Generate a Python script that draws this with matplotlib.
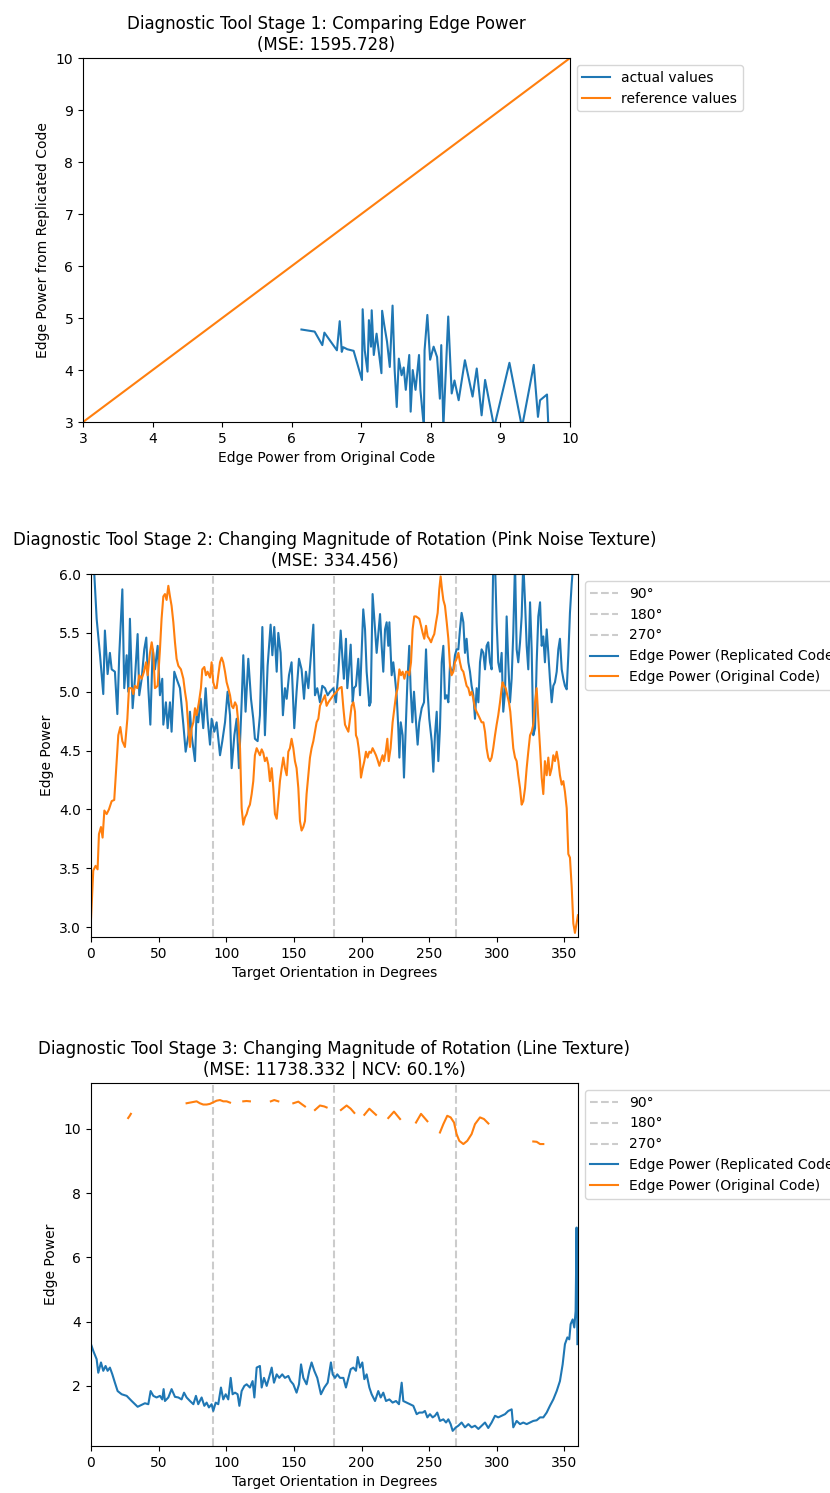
import numpy as np
import matplotlib
matplotlib.use("Agg")
import matplotlib.pyplot as plt

# ---------------- Panel 1 data ----------------
p1_x = [6.14, 6.33, 6.44, 6.47, 6.65, 6.69, 6.72, 6.74, 6.80, 6.89, 7.01, 7.02, 7.05, 7.09,
        7.11, 7.14, 7.15, 7.18, 7.22, 7.29, 7.30, 7.33, 7.37, 7.41, 7.45, 7.48, 7.51, 7.54,
        7.58, 7.61, 7.64, 7.69, 7.71, 7.74, 7.78, 7.83, 7.85, 7.90, 7.91, 7.95, 7.99, 8.04,
        8.09, 8.13, 8.15, 8.18, 8.25, 8.30, 8.34, 8.40, 8.49, 8.60, 8.66, 8.73, 8.78, 8.91,
        9.13, 9.31, 9.48, 9.54, 9.57, 9.67, 9.69]
p1_y = [4.78, 4.74, 4.48, 4.72, 4.38, 4.94, 4.35, 4.44, 4.40, 4.37, 3.81, 5.17, 4.38, 3.97,
        4.96, 4.45, 5.15, 4.29, 4.70, 3.94, 5.14, 4.87, 4.55, 4.06, 5.24, 4.00, 3.29, 4.22,
        3.90, 4.05, 3.62, 4.29, 3.20, 4.00, 3.62, 4.29, 3.62, 2.90, 4.38, 5.06, 4.20, 4.45,
        4.25, 3.45, 4.48, 2.90, 5.03, 3.55, 3.80, 3.42, 4.19, 3.49, 4.03, 3.13, 3.81, 2.90,
        4.14, 2.90, 4.10, 3.10, 3.42, 3.53, 2.90]
p1_ref = [3, 10]

# ---------------- Panel 2 data ----------------
p2_blue_deg = [0, 2, 4.2, 6.7, 9.1, 10.3, 12.3, 14.0, 15.3, 17.7, 19.5, 20.9, 23.2, 24.6, 26.4,
               27.6, 28.8, 30.8, 32.5, 34.5, 35.7, 37.5, 39.4, 40.9, 42.4, 43.9, 45.6, 47.3,
               49.3, 51.0, 52.7, 53.5, 55.4, 56.7, 58.4, 59.6, 61.6, 63.3, 65.8, 67.0, 68.3,
               70.0, 72.0, 73.2, 74.4, 76.9, 78.1, 79.3, 81.1, 83.0, 84.8, 86.2, 88.0, 89.2,
               91.2, 92.9, 95.4, 97.1, 99.1, 101.0, 102.8, 104.0, 106.0, 107.7, 109.4, 111.4,
               112.6, 114.3, 116.3, 118.3, 120.0, 121.2, 123.2, 124.9, 126.7, 128.6, 130.6,
               132.8, 134.1, 135.5, 137.3, 138.5, 140.2, 141.9, 143.4, 144.7, 146.4, 148.3,
               150.3, 152.0, 153.8, 155.7, 157.5, 158.9, 160.7, 162.6, 164.4, 165.6, 167.3,
               169.3, 171.0, 173.0, 175.0, 176.7, 179.2, 181.1, 182.9, 184.6, 186.1, 187.0,
               188.5, 189.5, 190.7, 192.0, 193.5, 194.4, 195.9, 197.6, 198.9, 200.1, 201.3,
               202.6, 203.8, 205.8, 206.8, 208.2, 210.0, 211.2, 213.7, 214.9, 216.1, 217.4,
               218.6, 219.8, 220.6, 222.3, 223.5, 224.8, 226.0, 227.2, 228.0, 229.0, 230.4,
               231.4, 232.9, 233.9, 235.3, 236.3, 237.6, 238.8, 240.3, 241.5, 242.7, 244.5,
               246.2, 247.7, 248.7, 250.1, 251.9, 253.1, 254.3, 255.6, 256.8, 258.0, 259.3,
               260.5, 261.7, 263.0, 264.2, 265.4, 266.6, 267.9, 269.1, 270.3, 271.6, 272.8,
               274.0, 275.3, 276.5, 277.7, 279.0, 280.2, 281.4, 282.7, 283.9, 285.1, 286.4,
               287.6, 288.8, 290.1, 291.3, 292.5, 293.7, 295.0, 296.2, 297.4, 298.7, 299.9,
               301.1, 302.4, 303.6, 304.8, 306.1, 307.3, 308.5, 309.8, 311.0, 312.2, 313.5,
               314.7, 315.9, 317.2, 318.4, 319.6, 320.9, 322.1, 323.3, 324.6, 325.8, 327.0,
               328.3, 329.5, 330.7, 332.0, 333.2, 334.4, 335.6, 336.9, 338.1, 339.3, 340.6,
               341.8, 343.0, 344.3, 345.5, 346.7, 348.0, 349.2, 350.4, 351.7, 352.9, 354.1,
               355.4, 356.6, 359.0]
p2_blue_val = [6.4, 6.1, 5.62, 5.31, 4.98, 5.52, 5.15, 5.33, 5.19, 5.17, 4.81, 5.31, 5.87, 5.03,
               5.31, 5.00, 5.62, 4.86, 5.11, 5.49, 4.97, 5.11, 5.36, 5.46, 5.03, 4.72, 5.36,
               5.19, 5.39, 4.97, 5.11, 4.72, 4.91, 4.69, 4.91, 4.66, 5.17, 5.11, 5.03, 4.88,
               4.72, 4.49, 4.63, 4.83, 4.63, 4.41, 4.83, 4.74, 4.94, 4.69, 5.03, 4.77, 4.55,
               4.77, 4.66, 4.74, 4.46, 4.58, 4.74, 5.00, 4.80, 4.35, 4.63, 4.77, 4.35, 4.91,
               5.31, 4.83, 5.28, 4.94, 4.77, 4.60, 4.58, 4.80, 5.55, 4.63, 5.22, 5.57, 5.31,
               5.55, 5.17, 5.50, 5.33, 4.80, 5.03, 4.94, 5.14, 5.25, 4.69, 5.00, 5.28, 5.19,
               4.94, 5.17, 5.03, 5.31, 5.57, 4.97, 5.03, 4.91, 5.05, 5.03, 4.97, 5.00, 5.03,
               4.91, 5.17, 5.52, 5.25, 5.11, 5.45, 5.03, 5.19, 5.40, 4.91, 5.03, 5.05, 5.28,
               4.97, 5.33, 5.70, 5.53, 5.17, 4.88, 4.91, 5.83, 5.53, 5.33, 5.66, 5.39, 5.17,
               5.53, 5.59, 5.39, 5.59, 5.14, 5.25, 5.11, 4.97, 4.69, 4.44, 4.74, 4.63, 4.27,
               4.77, 5.08, 5.39, 5.03, 4.74, 5.00, 4.74, 4.55, 4.74, 4.86, 4.91, 5.36, 5.03,
               4.77, 4.58, 4.32, 4.63, 4.83, 4.41, 4.69, 5.25, 5.39, 4.94, 4.97, 4.91, 5.22,
               5.17, 5.19, 5.31, 5.36, 5.36, 5.53, 5.67, 5.59, 5.33, 5.45, 5.25, 5.17, 5.05,
               4.97, 4.77, 5.03, 4.91, 5.25, 5.36, 5.33, 5.19, 5.39, 5.42, 5.25, 5.19, 6.10,
               6.10, 5.59, 5.25, 5.17, 5.33, 4.83, 5.00, 5.64, 5.25, 4.91, 5.11, 5.50, 6.10,
               5.36, 5.25, 5.42, 5.64, 6.10, 5.76, 5.39, 5.19, 5.76, 5.36, 4.63, 4.69, 5.25,
               5.64, 5.76, 5.39, 5.47, 5.25, 5.53, 5.33, 5.11, 4.91, 5.05, 5.08, 5.17, 5.36,
               5.45, 5.19, 5.11, 5.05, 5.02, 5.31, 5.67, 5.92, 6.10, 6.40]

p2_orange_deg = [0, 1.7, 3.4, 4.9, 5.9, 7.4, 8.6, 9.9, 11.6, 13.3, 15.3, 17.2, 19.0, 20.2, 21.7,
                 23.2, 25.1, 26.9, 28.1, 30.1, 31.3, 32.5, 34.3, 35.7, 37.5, 39.2, 40.7, 41.9,
                 43.6, 44.9, 46.1, 47.3, 49.3, 51.0, 52.2, 53.5, 54.7, 55.9, 57.2, 58.4, 59.6,
                 60.9, 62.1, 63.3, 64.6, 66.5, 68.3, 69.5, 70.7, 72.0, 73.2, 74.4, 75.7, 76.9,
                 78.1, 79.8, 81.3, 82.3, 83.8, 85.0, 86.2, 88.0, 89.2, 90.4, 91.7, 92.9, 94.1,
                 95.4, 96.6, 97.8, 99.1, 100.3, 101.5, 102.8, 104.0, 105.2, 106.5, 107.7, 108.9,
                 110.2, 111.4, 112.6, 113.8, 115.1, 116.3, 117.5, 118.8, 120.0, 121.2, 122.5,
                 123.7, 124.9, 126.2, 127.4, 128.6, 129.9, 131.1, 132.3, 133.6, 134.8, 136.0,
                 137.3, 138.5, 139.7, 141.0, 142.2, 143.4, 144.7, 145.9, 147.1, 148.3, 149.6,
                 150.8, 152.0, 153.3, 154.5, 155.7, 157.0, 158.2, 159.4, 160.7, 161.9, 163.1,
                 164.4, 165.6, 166.8, 168.1, 169.3, 170.5, 171.8, 173.0, 174.2, 175.5, 176.7,
                 179.2, 181.6, 183.6, 185.3, 186.6, 187.8, 189.0, 190.3, 191.5, 192.7, 194.0,
                 195.2, 195.9, 196.9, 197.9, 198.9, 199.6, 200.9, 202.1, 203.3, 204.5, 205.8,
                 207.0, 208.2, 209.5, 210.7, 211.9, 213.2, 214.2, 215.6, 216.6, 217.9, 219.1,
                 220.1, 221.5, 223.0, 224.3, 225.5, 226.7, 228.0, 229.2, 230.4, 231.7, 232.9,
                 234.1, 235.3, 236.6, 237.8, 239.0, 240.3, 241.5, 242.7, 244.0, 245.2, 246.4,
                 247.7, 248.9, 250.1, 251.4, 252.6, 253.8, 255.1, 256.3, 257.5, 258.5, 259.5,
                 260.5, 261.7, 263.0, 264.2, 265.4, 266.6, 267.9, 269.1, 270.3, 271.6, 272.8,
                 274.0, 275.3, 276.5, 277.7, 279.0, 280.2, 281.4, 282.7, 283.9, 285.1, 286.4,
                 287.6, 288.8, 290.1, 291.3, 292.5, 293.7, 295.0, 296.2, 297.4, 298.7, 299.9,
                 301.1, 302.4, 303.6, 304.3, 305.3, 306.6, 307.8, 309.0, 310.0, 311.0, 312.2,
                 313.5, 314.7, 315.9, 317.2, 318.4, 319.6, 320.9, 322.1, 323.3, 324.6, 325.8,
                 327.0, 328.3, 329.5, 330.7, 332.0, 333.2, 334.4, 335.6, 336.9, 338.1, 339.3,
                 340.6, 341.8, 343.0, 344.3, 345.5, 346.7, 348.0, 349.2, 350.4, 351.7, 352.9,
                 354.1, 355.4, 356.6, 357.8, 359.0, 360.0]
p2_orange_val = [3.06, 3.48, 3.52, 3.49, 3.79, 3.85, 3.76, 3.99, 3.96, 4.00, 4.07, 4.08, 4.41,
                 4.63, 4.70, 4.58, 4.53, 4.77, 5.03, 5.03, 4.98, 5.05, 5.03, 5.14, 5.11, 5.17,
                 5.25, 5.14, 5.33, 5.42, 5.33, 5.03, 5.05, 5.36, 5.62, 5.81, 5.83, 5.78, 5.90,
                 5.81, 5.73, 5.59, 5.42, 5.28, 5.22, 5.19, 5.11, 5.00, 4.91, 4.69, 4.53, 4.69,
                 4.74, 4.86, 4.80, 4.91, 5.03, 5.19, 5.21, 5.14, 5.17, 5.12, 5.25, 5.08, 5.03,
                 5.03, 5.14, 5.25, 5.29, 5.25, 5.17, 5.08, 5.03, 4.97, 4.88, 4.86, 4.91, 4.88,
                 4.74, 4.52, 4.01, 3.87, 3.93, 3.96, 4.01, 4.04, 4.13, 4.24, 4.46, 4.52, 4.49,
                 4.46, 4.51, 4.48, 4.41, 4.44, 4.38, 4.24, 4.35, 4.18, 3.96, 3.92, 4.07, 4.24,
                 4.35, 4.44, 4.35, 4.29, 4.49, 4.52, 4.60, 4.52, 4.41, 4.35, 4.18, 3.90, 3.82,
                 3.85, 3.90, 4.13, 4.29, 4.44, 4.52, 4.58, 4.66, 4.74, 4.77, 4.88, 4.91, 4.94,
                 4.97, 4.88, 4.91, 4.93, 4.97, 5.00, 5.03, 5.04, 4.86, 4.72, 4.69, 4.66, 4.77,
                 4.88, 4.91, 4.83, 4.63, 4.60, 4.52, 4.41, 4.27, 4.35, 4.41, 4.49, 4.44, 4.49,
                 4.48, 4.52, 4.49, 4.46, 4.42, 4.37, 4.41, 4.46, 4.41, 4.49, 4.60, 4.41, 4.52,
                 4.74, 4.86, 4.97, 5.03, 5.19, 5.14, 5.17, 5.11, 5.17, 5.17, 5.14, 5.25, 5.53,
                 5.64, 5.64, 5.63, 5.62, 5.56, 5.50, 5.45, 5.56, 5.47, 5.45, 5.42, 5.46, 5.49,
                 5.59, 5.67, 5.87, 5.98, 5.87, 5.78, 5.73, 5.59, 5.45, 5.22, 5.14, 5.17, 5.25,
                 5.28, 5.33, 5.25, 5.19, 5.17, 5.11, 5.05, 5.03, 4.97, 5.00, 4.94, 4.86, 4.83,
                 4.80, 4.77, 4.74, 4.74, 4.66, 4.52, 4.44, 4.41, 4.44, 4.52, 4.63, 4.72, 4.80,
                 4.91, 5.03, 5.08, 5.05, 5.03, 4.97, 4.91, 4.83, 4.69, 4.52, 4.44, 4.41, 4.29,
                 4.18, 4.04, 4.07, 4.18, 4.35, 4.49, 4.63, 4.66, 4.72, 4.91, 5.03, 4.77, 4.52,
                 4.27, 4.13, 4.41, 4.29, 4.44, 4.29, 4.35, 4.46, 4.41, 4.49, 4.41, 4.29, 4.21,
                 4.24, 4.15, 4.01, 3.62, 3.59, 3.34, 3.03, 2.95, 3.03, 3.10]

# ---------------- Panel 3 data ----------------
p3_blue_deg = [0, 1.7, 4.2, 5.4, 7.4, 9.1, 10.8, 12.3, 14.0, 15.8, 17.7, 19.7, 22.7, 26.4, 30.1,
               34.5, 37.5, 39.9, 42.4, 44.1, 46.1, 48.5, 51.0, 52.7, 53.7, 54.7, 57.2, 59.6,
               62.1, 64.6, 67.0, 68.8, 70.7, 73.2, 75.7, 77.6, 79.3, 81.8, 83.8, 85.5, 87.2,
               89.2, 90.4, 92.2, 94.1, 96.1, 97.8, 99.6, 101.5, 103.3, 104.7, 106.5, 108.4,
               109.7, 111.4, 113.4, 115.1, 117.5, 119.5, 120.8, 122.5, 124.9, 126.2, 127.9,
               129.9, 131.6, 133.6, 135.3, 137.3, 139.2, 141.4, 143.4, 145.9, 147.6, 149.6,
               152.0, 153.8, 155.3, 157.0, 159.4, 161.4, 163.1, 165.1, 167.3, 170.0, 172.5,
               175.0, 177.4, 178.7, 180.4, 182.1, 184.1, 186.6, 188.5, 190.3, 192.0, 194.0,
               195.9, 197.2, 198.9, 200.6, 202.1, 203.8, 205.8, 207.5, 210.0, 212.4, 214.2,
               216.1, 218.1, 220.6, 223.0, 225.5, 227.7, 229.7, 230.9, 233.4, 235.8, 238.3,
               240.8, 242.7, 245.2, 246.9, 248.7, 250.6, 252.6, 254.3, 256.0, 258.0, 260.5,
               262.5, 264.2, 265.9, 267.4, 269.8, 271.6, 274.0, 276.5, 279.0, 281.4, 283.9,
               286.4, 288.8, 291.3, 293.7, 296.2, 298.7, 301.1, 303.6, 306.1, 308.5, 311.0,
               312.2, 314.7, 317.2, 319.6, 322.1, 324.6, 327.0, 329.5, 332.0, 334.4, 336.9,
               339.3, 341.8, 344.3, 346.7, 348.7, 350.4, 352.2, 353.6, 354.6, 356.1, 357.3,
               358.3, 359.0, 359.6]
p3_blue_val = [3.30, 3.09, 2.83, 2.41, 2.73, 2.47, 2.62, 2.47, 2.57, 2.36, 2.10, 1.84, 1.74, 1.69,
               1.53, 1.35, 1.41, 1.46, 1.43, 1.84, 1.69, 1.64, 1.69, 1.58, 1.90, 1.53, 1.64,
               1.90, 1.66, 1.64, 1.58, 1.79, 1.64, 1.53, 1.43, 1.69, 1.43, 1.64, 1.38, 1.48,
               1.33, 1.43, 1.22, 1.48, 1.43, 1.95, 1.58, 1.74, 1.58, 2.25, 1.74, 1.79, 1.74,
               1.38, 1.84, 2.00, 2.05, 1.95, 2.15, 1.64, 2.57, 2.62, 1.95, 2.25, 2.00, 2.25,
               2.57, 2.10, 2.36, 2.25, 2.36, 2.25, 2.31, 2.15, 2.05, 1.79, 2.05, 2.67, 2.25,
               2.05, 2.47, 2.73, 2.47, 2.25, 1.74, 1.95, 2.10, 2.73, 2.36, 2.25, 2.36, 2.25,
               2.25, 1.95, 2.25, 2.52, 2.57, 2.47, 2.90, 2.57, 2.73, 2.21, 2.36, 1.95, 1.74,
               1.53, 1.84, 1.64, 1.79, 1.53, 1.58, 1.48, 1.53, 1.43, 2.10, 1.53, 1.48, 1.43,
               1.38, 1.12, 1.17, 1.17, 1.22, 1.02, 1.12, 1.02, 1.07, 1.17, 0.91, 0.96, 0.86,
               0.96, 0.81, 0.60, 0.71, 0.76, 0.86, 0.71, 0.81, 0.71, 0.76, 0.66, 0.76, 0.86,
               0.69, 0.86, 1.07, 1.02, 1.07, 1.12, 1.22, 1.27, 0.71, 0.91, 0.81, 0.86, 0.81,
               0.86, 0.91, 0.93, 1.02, 1.02, 1.17, 1.38, 1.58, 1.84, 2.15, 2.67, 3.30, 3.51,
               3.45, 3.92, 4.07, 3.82, 4.33, 6.93, 3.30]

# Original-code series (gaps = missing values)
p3_orange_deg = [27.5, 28.5, 29.5, 30.5,
                 70.7, 74.4, 78.1, 80.5, 83.0, 85.5, 87.9, 90.4, 92.9, 95.4, 97.8, 100.3, 102.8, 103.8,
                 112.6, 115.0, 117.5, 118.5,
                 133.0, 135.5, 138.5, 139.5,
                 149.6, 153.3, 156.2, 158.2, 159.2,
                 165.6, 169.3, 172.5, 174.2, 175.2,
                 184.8, 189.0, 192.0, 194.7, 195.7,
                 202.1, 205.8, 210.7, 211.7,
                 219.8, 224.0, 228.5, 229.5,
                 240.3, 244.0, 248.7, 249.7,
                 258.0, 260.5, 263.4, 265.9, 268.4, 270.3, 272.3, 275.3, 278.2, 281.4, 283.9,
                 287.6, 290.5, 293.8, 294.8,
                 327.0, 329.5, 332.0, 334.4]
p3_orange_val = [10.34, 10.40, 10.47, np.nan,
                 10.80, 10.83, 10.86, 10.80, 10.76, 10.76, 10.78, 10.83, 10.88, 10.90, 10.86, 10.86, 10.82, np.nan,
                 10.86, 10.87, 10.86, np.nan,
                 10.86, 10.90, 10.86, np.nan,
                 10.80, 10.85, 10.76, 10.70, np.nan,
                 10.59, 10.73, 10.70, 10.67, np.nan,
                 10.59, 10.73, 10.63, 10.50, np.nan,
                 10.44, 10.63, 10.44, np.nan,
                 10.34, 10.54, 10.31, np.nan,
                 10.20, 10.47, 10.24, np.nan,
                 9.89, 10.15, 10.41, 10.36, 10.20, 9.84, 9.63, 9.53, 9.63, 9.84, 10.15,
                 10.36, 10.31, 10.17, np.nan,
                 9.61, 9.60, 9.53, 9.53]

ref_angles = [90, 180, 270]
ref_labels = ["90°", "180°", "270°"]
x_ticks = [0, 50, 100, 150, 200, 250, 300, 350]

BLUE = "#1f77b4"
ORANGE = "#ff7f0e"

fig = plt.figure(figsize=(8.3, 14.93), dpi=100)

# ---------------- Panel 1 ----------------
ax1 = fig.add_axes([0.1000, 0.7173, 0.5867, 0.2438])
ax1.plot(p1_x, p1_y, color=BLUE, label="actual values")
ax1.plot(p1_ref, p1_ref, color=ORANGE, label="reference values")
ax1.set_xlim(3, 10)
ax1.set_ylim(3, 10)
ax1.set_xlabel("Edge Power from Original Code")
ax1.set_ylabel("Edge Power from Replicated Code")
ax1.set_title("Diagnostic Tool Stage 1: Comparing Edge Power\n(MSE: 1595.728)", fontsize=12)
ax1.legend(loc="upper left", bbox_to_anchor=(1.0, 1.0))

# ---------------- Panel 2 ----------------
ax2 = fig.add_axes([0.1096, 0.3724, 0.5867, 0.2431])
for a, lab in zip(ref_angles, ref_labels):
    ax2.axvline(a, color="gray", alpha=0.4, linestyle="--", label=lab)
ax2.plot(p2_blue_deg, p2_blue_val, color=BLUE, label="Edge Power (Replicated Code)")
ax2.plot(p2_orange_deg, p2_orange_val, color=ORANGE, label="Edge Power (Original Code)")
ax2.set_xlim(0, 360)
ax2.set_ylim(2.915, 6.0)
ax2.set_xticks(x_ticks)
ax2.set_xlabel("Target Orientation in Degrees")
ax2.set_ylabel("Edge Power")
ax2.set_title("Diagnostic Tool Stage 2: Changing Magnitude of Rotation (Pink Noise Texture)\n(MSE: 334.456)",
              fontsize=12)
ax2.legend(loc="upper left", bbox_to_anchor=(1.0, 1.0))

# ---------------- Panel 3 ----------------
ax3 = fig.add_axes([0.1096, 0.0315, 0.5867, 0.2431])
for a, lab in zip(ref_angles, ref_labels):
    ax3.axvline(a, color="gray", alpha=0.4, linestyle="--", label=lab)
ax3.plot(p3_blue_deg, p3_blue_val, color=BLUE, label="Edge Power (Replicated Code)")
ax3.plot(p3_orange_deg, p3_orange_val, color=ORANGE, label="Edge Power (Original Code)")
ax3.set_xlim(0, 360)
ax3.set_ylim(0.13, 11.43)
ax3.set_xticks(x_ticks)
ax3.set_yticks([2, 4, 6, 8, 10])
ax3.set_xlabel("Target Orientation in Degrees")
ax3.set_ylabel("Edge Power")
ax3.set_title("Diagnostic Tool Stage 3: Changing Magnitude of Rotation (Line Texture)\n(MSE: 11738.332 | NCV: 60.1%)",
              fontsize=12)
ax3.legend(loc="upper left", bbox_to_anchor=(1.0, 1.0))

fig.savefig("out.png", dpi=100)
